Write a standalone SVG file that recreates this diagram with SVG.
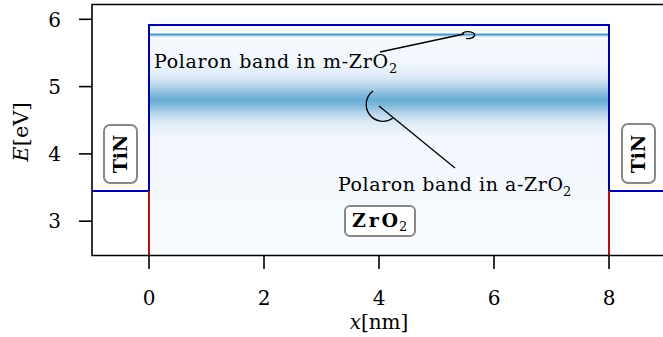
<svg xmlns="http://www.w3.org/2000/svg" width="663" height="337" viewBox="0 0 663 337">
<defs>
<linearGradient id="band" gradientUnits="userSpaceOnUse" x1="0" y1="18" x2="0" y2="255">
<stop offset="0" stop-color="#f7fbff"/>
<stop offset="0.19" stop-color="#f1f7fd"/>
<stop offset="0.25" stop-color="#dceaf6"/>
<stop offset="0.29" stop-color="#b3d3e9"/>
<stop offset="0.325" stop-color="#7fb8da"/>
<stop offset="0.346" stop-color="#68acd5"/>
<stop offset="0.367" stop-color="#7fb8da"/>
<stop offset="0.40" stop-color="#b3d3e9"/>
<stop offset="0.44" stop-color="#dceaf6"/>
<stop offset="0.50" stop-color="#f1f7fd"/>
<stop offset="1" stop-color="#f7fbff"/>
</linearGradient>
<style>
.ax{stroke:#000;stroke-width:1.6;fill:none}
.tick{stroke:#000;stroke-width:1.6}
.cb{stroke:#0000a0;stroke-width:2;fill:none}
.vb{stroke:#b01010;stroke-width:2}
.box{fill:#fff;stroke:#888;stroke-width:2}
.conn{stroke:#000;stroke-width:1.3;fill:none}
</style>
</defs>
<rect x="0" y="0" width="663" height="337" fill="#fff"/>
<rect x="149" y="18" width="460" height="237" fill="url(#band)"/>
<g id="m-band">
<rect x="149" y="33" width="460" height="3.5" fill="#a6cde6"/>
<line x1="149" y1="34.7" x2="609" y2="34.7" stroke="#4f93c3" stroke-width="1.2"/>
</g>
<g id="bands">
<polyline class="cb" points="92,191 149,191 149,25 609,25 609,191 663,191"/>
<line class="vb" x1="149" y1="191" x2="149" y2="255"/>
<line class="vb" x1="609" y1="191" x2="609" y2="255"/>
</g>
<g id="axes" font-family="'DejaVu Serif', 'Liberation Serif', serif" fill="#000">
<polyline class="ax" points="663,4.5 92,4.5 92,255.5 663,255.5"/>
<line class="tick" x1="79" y1="19.3" x2="92" y2="19.3"/>
<line class="tick" x1="79" y1="86.6" x2="92" y2="86.6"/>
<line class="tick" x1="79" y1="153.9" x2="92" y2="153.9"/>
<line class="tick" x1="79" y1="221.2" x2="92" y2="221.2"/>
<line class="tick" x1="149" y1="255" x2="149" y2="269"/>
<line class="tick" x1="264" y1="255" x2="264" y2="269"/>
<line class="tick" x1="379" y1="255" x2="379" y2="269"/>
<line class="tick" x1="494" y1="255" x2="494" y2="269"/>
<line class="tick" x1="609" y1="255" x2="609" y2="269"/>
<g font-size="20" text-anchor="end">
<text x="61" y="26.5">6</text>
<text x="61" y="93.8">5</text>
<text x="61" y="161.1">4</text>
<text x="61" y="228.4">3</text>
</g>
<g font-size="20" text-anchor="middle">
<text x="149" y="305">0</text>
<text x="264" y="305">2</text>
<text x="379" y="305">4</text>
<text x="494" y="305">6</text>
<text x="609" y="305">8</text>
</g>
<text x="379" y="329" font-size="20" text-anchor="middle"><tspan font-style="italic">x</tspan>[nm]</text>
<text transform="translate(28,132) rotate(-90)" font-size="21" text-anchor="middle"><tspan font-style="italic">E</tspan>[eV]</text>
</g>
<g id="connectors">
<line class="conn" x1="380" y1="52" x2="464" y2="34"/>
<path class="conn" d="M 462 34 A 6.5 3.4 0 1 1 466 38.3"/>
<line class="conn" x1="379" y1="106" x2="455" y2="168"/>
<path class="conn" d="M 373 91 A 16 16 0 1 0 393 118"/>
</g>
<g id="label-m" font-family="'DejaVu Serif', 'Liberation Serif', serif" fill="#000">
<text x="154" y="68" font-size="19" textLength="234" lengthAdjust="spacing">Polaron band in m-ZrO</text>
<text x="389" y="72.5" font-size="13">2</text>
</g>
<g id="label-a" font-family="'DejaVu Serif', 'Liberation Serif', serif" fill="#000">
<text x="338" y="191" font-size="19" textLength="225" lengthAdjust="spacing">Polaron band in a-ZrO</text>
<text x="563" y="195.5" font-size="13">2</text>
</g>
<g id="TiN-left" font-family="'DejaVu Serif', 'Liberation Serif', serif" fill="#000">
<rect class="box" x="104" y="125" width="33" height="58" rx="6"/>
<text transform="translate(127,154) rotate(-90)" text-anchor="middle" font-size="19" font-weight="bold">TiN</text>
</g>
<g id="TiN-right" font-family="'DejaVu Serif', 'Liberation Serif', serif" fill="#000">
<rect class="box" x="622" y="124" width="33" height="59" rx="6"/>
<text transform="translate(645,154) rotate(-90)" text-anchor="middle" font-size="19" font-weight="bold">TiN</text>
</g>
<g id="ZrO2" font-family="'DejaVu Serif', 'Liberation Serif', serif" fill="#000">
<rect class="box" x="345" y="206" width="70" height="30" rx="5"/>
<text x="352" y="227" font-size="19" font-weight="bold" textLength="46" lengthAdjust="spacing">ZrO</text>
<text x="399" y="231" font-size="13">2</text>
</g>
</svg>
